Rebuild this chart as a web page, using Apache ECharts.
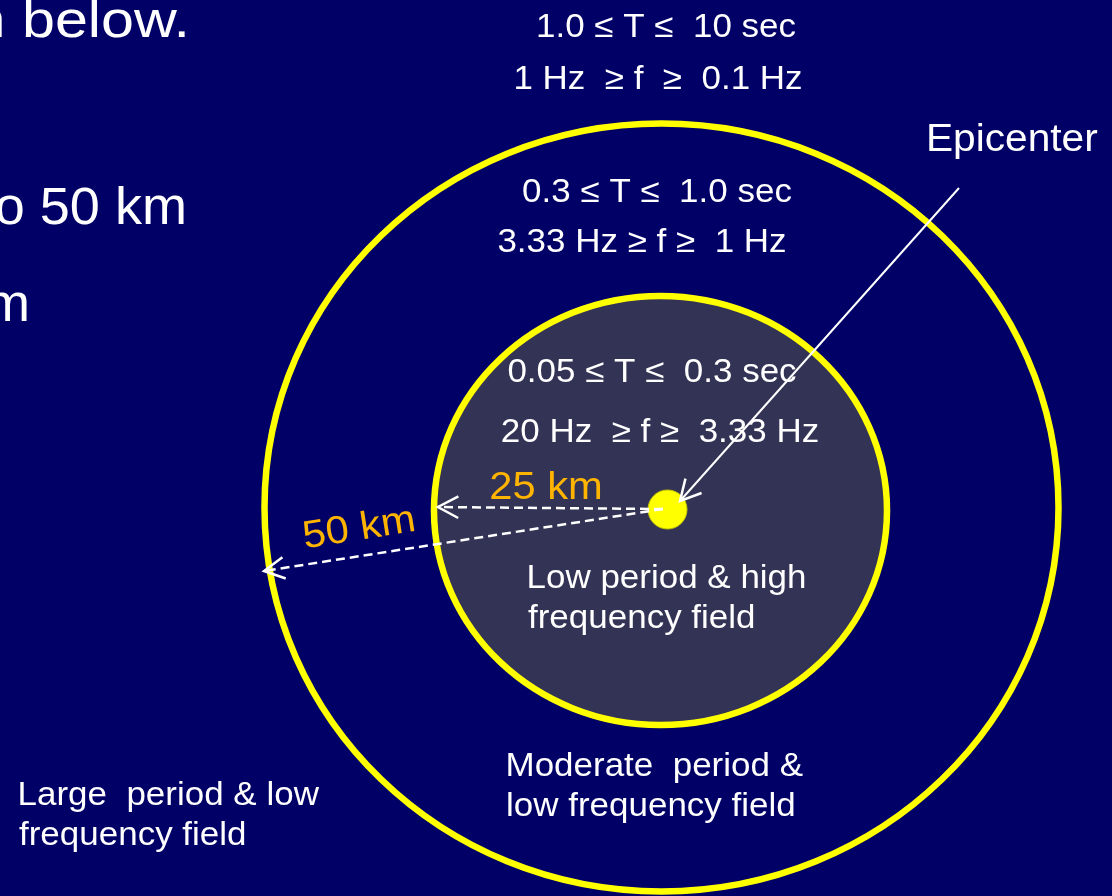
<!DOCTYPE html>
<html>
<head>
<meta charset="utf-8">
<script src="https://cdn.jsdelivr.net/npm/echarts@6/dist/echarts.min.js"></script>
<style>
html,body{margin:0;padding:0;background:#000066;}
#main{width:1112px;height:896px;}
</style>
</head>
<body>
<div id="main"></div>
<script>
// ---------------- data ----------------
const ringLabels   = ['25 km', '50 km'];            // field boundaries (radius)
const ringCenterX  = [660.5, 661.5];
const ringCenterY  = [510.5, 507.5];
const ringRadiusX  = [226.5, 397];
const ringRadiusY  = [214.5, 384];
const epicenter    = [667.5, 509.5];
const periodRanges = ['0.05 ≤ T ≤  0.3 sec', '0.3 ≤ T ≤  1.0 sec', '1.0 ≤ T ≤  10 sec'];
const freqRanges   = ['20 Hz  ≥ f ≥  3.33 Hz', '3.33 Hz ≥ f ≥  1 Hz', '1 Hz  ≥ f  ≥  0.1 Hz'];
const fieldLine1   = ['Low period & high', 'Moderate  period &', 'Large  period & low'];
const fieldLine2   = ['frequency field', 'low frequency field', 'frequency field'];
const headingLines = ['n below.', 'o 50 km', 'm'];
const pointerLabel = 'Epicenter';
const arrowFromX   = [663, 663, 959];
const arrowFromY   = [509, 509, 188];
const arrowToX     = [438, 264, 680];
const arrowToY     = [507, 571, 501];
const arrowDashed  = [1, 1, 0];

// ---------------- layout ----------------
const FONT = '"Liberation Sans", Arial, Helvetica, sans-serif';
const WHITE = '#ffffff', GOLD = '#FFB400', YELLOW = '#FFFF00';
const S = 33, SX = 1.06;
const texts = [
  {t: periodRanges[2], x: 666, y: 38,  s: S, a: 'center'},
  {t: freqRanges[2],   x: 658, y: 90,  s: S, a: 'center'},
  {t: periodRanges[1], x: 657, y: 203, s: S, a: 'center'},
  {t: freqRanges[1],   x: 642, y: 253, s: S, a: 'center'},
  {t: periodRanges[0], x: 652, y: 383, s: S, a: 'center'},
  {t: freqRanges[0],   x: 660, y: 443, s: S, a: 'center'},
  {t: fieldLine1[0],   x: 526.5, y: 589, s: S, a: 'left'},
  {t: fieldLine2[0],   x: 528, y: 629, s: S, a: 'left'},
  {t: fieldLine1[1],   x: 505.5, y: 777, s: S, a: 'left'},
  {t: fieldLine2[1],   x: 506, y: 817, s: S, a: 'left'},
  {t: fieldLine1[2],   x: 17.5, y: 806, s: S, a: 'left'},
  {t: fieldLine2[2],   x: 19, y: 846, s: S, a: 'left'},
  {t: pointerLabel,    x: 926, y: 152, s: 38, a: 'left', k: 1.07},
  {t: headingLines[0], x: 190, y: 38,  s: 52, a: 'right', k: 1.14},
  {t: headingLines[1], x: 187, y: 225, s: 51, a: 'right', k: 1.06},
  {t: headingLines[2], x: 30,  y: 322, s: 51, a: 'right', k: 1.06},
  {t: ringLabels[0],   x: 546, y: 500, s: 39, a: 'center', c: GOLD, k: 1.07},
  {t: ringLabels[1],   x: 361, y: 540.5, s: 39, a: 'center', c: GOLD, r: 9, k: 1.07}
];

const chart = echarts.init(document.getElementById('main'), null, {renderer: 'canvas'});

const option = {
  backgroundColor: '#000066',
  animation: false,
  grid: {left: 0, right: 0, top: 0, bottom: 0},
  xAxis: {type: 'value', min: 0, max: 1112, show: false},
  yAxis: {type: 'value', min: 0, max: 896, inverse: true, show: false},
  series: [
    {
      type: 'custom',
      name: 'rings',
      z: 1,
      data: ringLabels.map((l, i) => [ringCenterX[i], ringCenterY[i], ringRadiusX[i], ringRadiusY[i]]).reverse(),
      renderItem: function (params, api) {
        const c = api.coord([api.value(0), api.value(1)]);
        const sz = api.size([api.value(2), api.value(3)]);
        const inner = params.dataIndex === 1;
        return {
          type: 'ellipse',
          shape: {cx: c[0], cy: c[1], rx: sz[0], ry: sz[1]},
          style: {fill: inner ? '#333355' : 'none', stroke: YELLOW, lineWidth: 6.5}
        };
      }
    },
    {
      type: 'scatter',
      name: 'epicenter',
      z: 2,
      symbol: 'circle',
      symbolSize: 39,
      itemStyle: {color: YELLOW, borderColor: '#c8c800', borderWidth: 1, opacity: 1},
      data: [epicenter]
    },
    {
      type: 'custom',
      name: 'texts',
      z: 3,
      data: texts.map(d => [d.x, d.y]),
      renderItem: function (params, api) {
        const d = texts[params.dataIndex];
        const p = api.coord([api.value(0), api.value(1)]);
        const rot = (d.r || 0) * Math.PI / 180;
        const off = 0.30 * d.s;
        const x = p[0] - Math.sin(rot) * off;
        const y = p[1] - Math.cos(rot) * off;
        return {
          type: 'text',
          x: x, y: y,
          rotation: rot,
          scaleX: d.k || SX,
          style: {
            text: d.t,
            fill: d.c || WHITE,
            font: d.s + 'px ' + FONT,
            align: d.a,
            verticalAlign: 'middle'
          }
        };
      }
    },
    {
      type: 'custom',
      name: 'arrows',
      z: 4,
      data: arrowFromX.map((x, i) => [x, arrowFromY[i], arrowToX[i], arrowToY[i], arrowDashed[i]]),
      renderItem: function (params, api) {
        const a = api.coord([api.value(0), api.value(1)]);
        const b = api.coord([api.value(2), api.value(3)]);
        const dashed = api.value(4) === 1;
        const dx = a[0] - b[0], dy = a[1] - b[1];
        const L = Math.sqrt(dx * dx + dy * dy);
        const ux = dx / L, uy = dy / L;
        const ang = 28 * Math.PI / 180, len = 23;
        const r1 = [ux * Math.cos(ang) - uy * Math.sin(ang), ux * Math.sin(ang) + uy * Math.cos(ang)];
        const r2 = [ux * Math.cos(-ang) - uy * Math.sin(-ang), ux * Math.sin(-ang) + uy * Math.cos(-ang)];
        return {
          type: 'group',
          children: [
            {
              type: 'line',
              shape: {x1: a[0], y1: a[1], x2: b[0], y2: b[1]},
              style: {stroke: WHITE, lineWidth: dashed ? 2.5 : 2, lineDash: dashed ? [9, 5] : null}
            },
            {
              type: 'polyline',
              shape: {points: [[b[0] + r1[0] * len, b[1] + r1[1] * len], b, [b[0] + r2[0] * len, b[1] + r2[1] * len]]},
              style: {stroke: WHITE, lineWidth: 2.5, fill: null}
            }
          ]
        };
      }
    }
  ]
};
chart.setOption(option);
</script>
</body>
</html>
